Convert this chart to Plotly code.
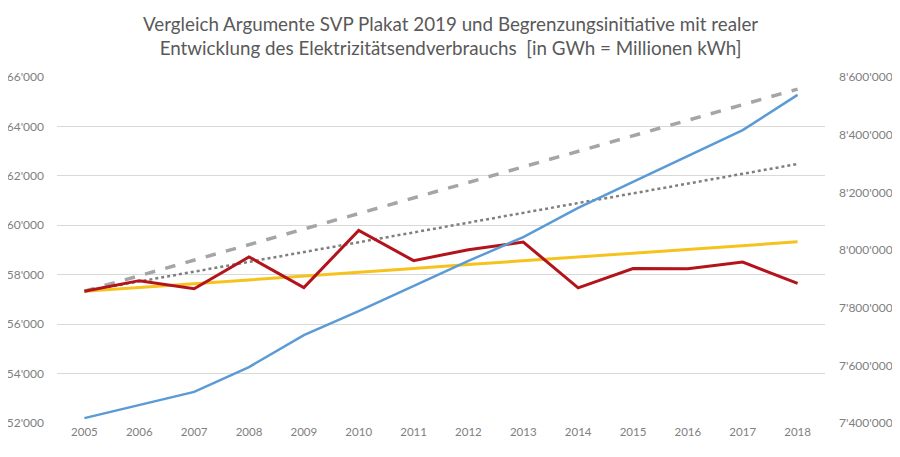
import plotly.graph_objects as go

years = list(range(2005, 2019))

# Population (right axis)
bevoelkerung = [7417000, 7462000, 7508000, 7594000, 7705000, 7788000, 7875000,
                7962000, 8045000, 8146000, 8236000, 8326000, 8416000, 8538000]

# Actual electricity end consumption (GWh, left axis)
verbrauch_real = [57330, 57760, 57430, 58720, 57480, 59790, 58570,
                  59010, 59320, 57470, 58250, 58240, 58510, 57650]

# Yellow line
linie_gelb = [57330, 57480, 57640, 57790, 57950, 58100, 58250,
              58410, 58560, 58720, 58870, 59020, 59180, 59330]

# Grey dashed line (SVP argument)
linie_gestrichelt = [57330, 57960, 58590, 59220, 59850, 60470, 61100,
                     61730, 62360, 62990, 63620, 64250, 64880, 65510]

# Grey dotted line
linie_punktiert = [57330, 57730, 58120, 58520, 58910, 59310, 59710,
                   60100, 60500, 60900, 61290, 61690, 62080, 62480]

left_ticks = list(range(52000, 66001, 2000))
right_ticks = list(range(7400000, 8600001, 200000))

title_lines = ["Vergleich Argumente SVP Plakat 2019 und Begrenzungsinitiative mit realer",
               "Entwicklung des Elektrizitätsendverbrauchs\u00a0 [in GWh = Millionen kWh]"]

fig = go.Figure()

fig.add_trace(go.Scatter(x=years, y=linie_gestrichelt, mode="lines",
                         line=dict(color="#A5A5A5", width=3.5, dash="dash"),
                         showlegend=False))
fig.add_trace(go.Scatter(x=years, y=linie_punktiert, mode="lines",
                         line=dict(color="#7F7F7F", width=2.5, dash="dot"),
                         showlegend=False))
fig.add_trace(go.Scatter(x=years, y=linie_gelb, mode="lines",
                         line=dict(color="#F5C21E", width=3),
                         showlegend=False))
fig.add_trace(go.Scatter(x=years, y=bevoelkerung, mode="lines", yaxis="y2",
                         line=dict(color="#5B9BD5", width=2.5),
                         showlegend=False))
fig.add_trace(go.Scatter(x=years, y=verbrauch_real, mode="lines",
                         line=dict(color="#B3141C", width=3),
                         showlegend=False))

tickfont = dict(family="Lato, sans-serif", size=12, color="#808080")

# the page body adds an 8px offset, so the figure is 892x449 with shifted margins
fig.add_annotation(
    text="<br>".join(title_lines),
    xref="paper", yref="paper", x=(450 - 57) / 768, y=1 + (77 - 35) / 346,
    xanchor="center", yanchor="middle", showarrow=False, align="center",
    font=dict(family="Lato, sans-serif", size=18.8, color="#595959"),
)

fig.update_layout(
    width=892, height=449,
    margin=dict(l=49, r=75, t=69, b=34, autoexpand=False),
    paper_bgcolor="white", plot_bgcolor="white",
    separators=".'",
    xaxis=dict(
        range=[2004.5, 2018.5], tickvals=years, ticktext=[str(y) for y in years],
        showgrid=False, zeroline=False, showline=False, ticks="",
        tickfont=dict(family="Lato, sans-serif", size=11.5, color="#808080"),
        automargin=False,
    ),
    yaxis=dict(
        range=[52000, 66000], tickvals=left_ticks, tickformat=",d",
        showgrid=True, gridcolor="#D9D9D9", gridwidth=1,
        zeroline=False, showline=False, ticks="", ticklabelstandoff=12,
        tickfont=tickfont, automargin=False,
    ),
    yaxis2=dict(
        range=[7400000, 8600000], tickvals=right_ticks, tickformat=",d",
        overlaying="y", side="right", showgrid=False, zeroline=False,
        showline=False, ticks="", ticklabelstandoff=13, tickfont=tickfont,
        automargin=False,
    ),
)

fig.write_html("out.html")
